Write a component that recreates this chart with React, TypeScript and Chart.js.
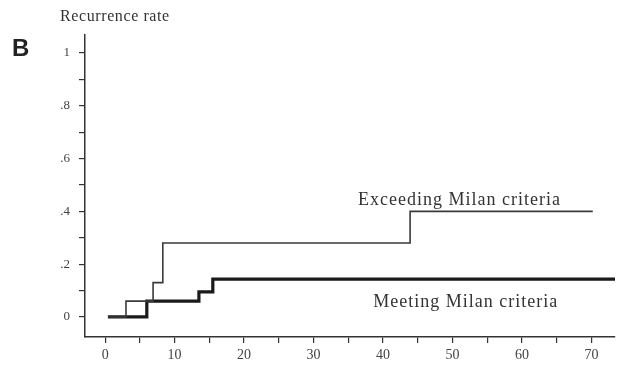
import React, { useEffect, useRef } from "react";
import { Chart, registerables } from "chart.js";

Chart.register(...registerables);

// Months after transplantation, recurrence rate
const exceedingX = [0.4, 3.0, 6.9, 8.3, 43.9, 70.2];
const exceedingY = [0, 0.06, 0.13, 0.28, 0.40, 0.40];
const meetingX = [0.4, 6.0, 13.5, 15.5, 73.4];
const meetingY = [0, 0.06, 0.095, 0.143, 0.143];

const xTicks = [0, 5, 10, 15, 20, 25, 30, 35, 40, 45, 50, 55, 60, 65, 70];
const xLabels = ["0", "10", "20", "30", "40", "50", "60", "70"];
const yTicks = [0, 0.1, 0.2, 0.3, 0.4, 0.5, 0.6, 0.7, 0.8, 0.9, 1];
const yLabels = ["0", ".2", ".4", ".6", ".8", "1"];

const exceedingLabel = "Exceeding Milan criteria";
const meetingLabel = "Meeting Milan criteria";
const yTitle = "Recurrence rate";
const panelLetter = "B";

const serif = "'Liberation Serif', 'DejaVu Serif', serif";

export default function App() {
  const ref = useRef<HTMLCanvasElement | null>(null);

  useEffect(() => {
    if (!ref.current) return;
    const textPlugin = {
      id: "texts",
      afterDraw(chart: any) {
        const ctx = chart.ctx;
        const xs = chart.scales.x;
        const ys = chart.scales.y;
        ctx.save();
        ctx.fillStyle = "#333";
        ctx.textBaseline = "alphabetic";
        ctx.textAlign = "left";
        (ctx as any).letterSpacing = "1px";
        ctx.font = `18px ${serif}`;
        ctx.fillText(exceedingLabel, xs.getPixelForValue(36.4), ys.getPixelForValue(0.425));
        ctx.fillText(meetingLabel, xs.getPixelForValue(38.6), ys.getPixelForValue(0.038));
        (ctx as any).letterSpacing = "0.6px";
        ctx.font = `16px ${serif}`;
        ctx.fillText(yTitle, 60, 21);
        (ctx as any).letterSpacing = "0px";
        ctx.fillStyle = "#222";
        ctx.font = `bold 24px 'Liberation Sans', Arial, sans-serif`;
        ctx.fillText(panelLetter, 12, 56);
        ctx.restore();
      },
    };

    const chart = new Chart(ref.current, {
      type: "line",
      data: {
        datasets: [
          {
            label: exceedingLabel,
            data: exceedingX.map((x, i) => ({ x, y: exceedingY[i] })),
            stepped: "before",
            borderColor: "#3a3a3a",
            borderWidth: 1.6,
            pointRadius: 0,
            fill: false,
          },
          {
            label: meetingLabel,
            data: meetingX.map((x, i) => ({ x, y: meetingY[i] })),
            stepped: "before",
            borderColor: "#1a1a1a",
            borderWidth: 3.2,
            pointRadius: 0,
            fill: false,
          },
        ],
      },
      options: {
        animation: false,
        responsive: false,
        maintainAspectRatio: false,
        events: [],
        layout: { padding: { left: 0, top: 35, right: 9, bottom: 0 } },
        plugins: { legend: { display: false }, tooltip: { enabled: false } },
        scales: {
          x: {
            type: "linear",
            min: -2.9,
            max: 73.4,
            afterBuildTicks: (s: any) => {
              s.ticks = xTicks.map((v) => ({ value: v }));
            },
            afterFit: (s: any) => {
              s.height = 32;
            },
            border: { display: true, color: "#333", width: 1.5 },
            grid: { drawOnChartArea: false, drawTicks: true, tickLength: 6, color: "#333", lineWidth: 1.2 },
            ticks: {
              autoSkip: false,
              maxRotation: 0,
              padding: 4,
              color: "#444",
              font: { family: serif, size: 14 },
              callback: (v: any) => (Number(v) % 10 === 0 ? xLabels[Number(v) / 10] : ""),
            },
          },
          y: {
            type: "linear",
            min: -0.076,
            max: 1.068,
            afterBuildTicks: (s: any) => {
              s.ticks = yTicks.map((v) => ({ value: v }));
            },
            afterFit: (s: any) => {
              s.width = 85;
            },
            border: { display: true, color: "#333", width: 1.5 },
            grid: { drawOnChartArea: false, drawTicks: true, tickLength: 6, color: "#333", lineWidth: 1.2 },
            ticks: {
              autoSkip: false,
              padding: 9,
              color: "#444",
              font: { family: serif, size: 13 },
              callback: (v: any) => {
                const k = Math.round(Number(v) * 10);
                return k % 2 === 0 ? yLabels[k / 2] : "";
              },
            },
          },
        },
      },
      plugins: [textPlugin],
    } as any);
    return () => chart.destroy();
  }, []);

  return (
    <div style={{ position: "fixed", left: 0, top: 0, width: 624, height: 369, background: "#fff" }}>
      <canvas ref={ref} width={624} height={369} style={{ width: 624, height: 369, display: "block" }} />
    </div>
  );
}
